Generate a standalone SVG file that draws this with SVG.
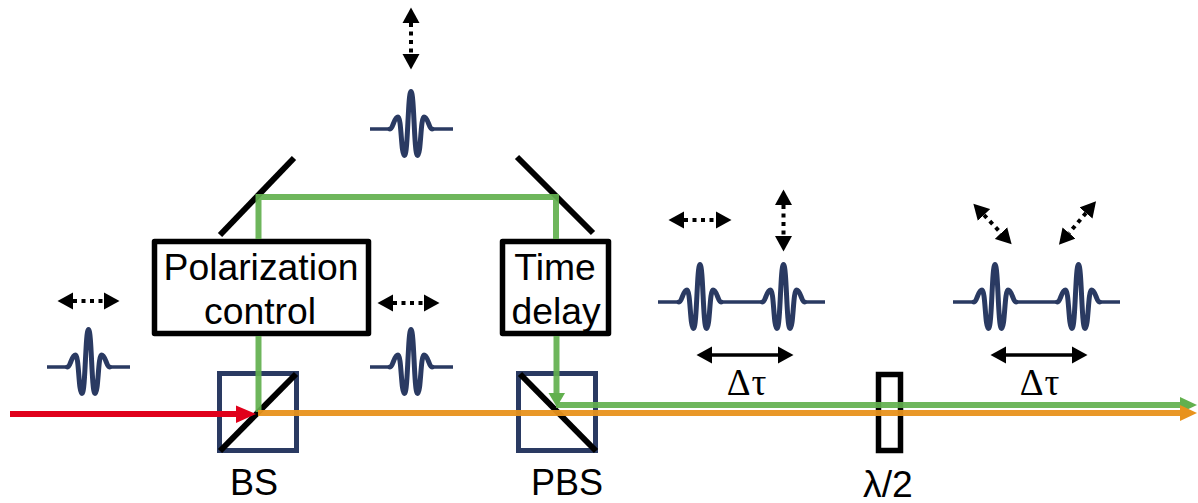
<svg xmlns="http://www.w3.org/2000/svg" width="1198" height="503" viewBox="0 0 1198 503">
<style>
text{font-family:"Liberation Sans",Arial,sans-serif;font-size:36px;fill:#000;text-anchor:middle}
text.lab{font-size:37.3px}
text.delta{font-family:"Liberation Serif","Times New Roman",serif;font-size:37px;letter-spacing:1px}
.pulse{fill:none;stroke:#2a3a62;stroke-width:5;stroke-linejoin:round;stroke-linecap:round}
.base{fill:none;stroke:#2a3a62;stroke-width:3.600}
.cube{fill:none;stroke:#2a3a62;stroke-width:5}
.blk{fill:none;stroke:#000;stroke-width:6}
.box{fill:#fff;stroke:#000;stroke-width:5.500;stroke-linejoin:round}
.plate{fill:none;stroke:#000;stroke-width:5.500}
.dot{fill:none;stroke:#000;stroke-width:4;stroke-dasharray:4 4.500;marker-start:url(#head);marker-end:url(#head)}
.sol{fill:none;stroke:#000;stroke-width:3.4;marker-start:url(#head);marker-end:url(#head)}
.g{fill:none;stroke:#62b04e;stroke-width:6;opacity:.92}
.o{fill:none;stroke:#e8921c;stroke-width:6;opacity:.95}
.r{fill:none;stroke:#e0001b;stroke-width:6}
</style>
<defs>
<marker id="head" markerUnits="userSpaceOnUse" markerWidth="16" markerHeight="18" refX="0" refY="9" orient="auto-start-reverse" viewBox="0 0 16 18"><path d="M0 0.500L15.500 9L0 17.500Z" fill="#000"/></marker>
<path id="wave" class="pulse" d="M-21 0C-18 0 -17 -12 -13 -12C-9.500 -12 -10 26.500 -6.500 26.500C-3 26.500 -3.200 -37.500 0 -37.500C3.200 -37.500 3 26.500 6.500 26.500C10 26.500 9.500 -12 13 -12C17 -12 18 0 21 0"/>
</defs>
<g id="pulse-input"><path class="base" d="M47 367H67.500M109.500 367H130"/><use href="#wave" x="88.500" y="367"/><path class="dot" d="M73 301H104"/></g>
<g id="pulse-mid"><path class="base" d="M370 367H390M432 367H453"/><use href="#wave" x="411" y="367"/><path class="dot" d="M393 303H424"/></g>
<g id="pulse-top"><path class="base" d="M370 129H390M432 129H453"/><use href="#wave" x="411" y="129"/><path class="dot" d="M411 23V54"/></g>
<g id="pulse-pair-1"><path class="base" d="M658 302H679M721 302H762.500M804.500 302H825"/><use href="#wave" x="700" y="302"/><use href="#wave" x="783.500" y="302"/><path class="dot" d="M684 220H716"/><path class="dot" d="M783.500 205V236"/><path class="sol" d="M712 355H778"/><text class="delta" x="747" y="395">Δτ</text></g>
<g id="pulse-pair-2"><path class="base" d="M953 302H974M1016 302H1057.500M1099.500 302H1120"/><use href="#wave" x="995" y="302"/><use href="#wave" x="1078.500" y="302"/><path class="dot" d="M984 215L1001 233"/><path class="dot" d="M1086 213L1069 233"/><path class="sol" d="M1006 355H1072"/><text class="delta" x="1040" y="395">Δτ</text></g>
<g id="mirror-left"><path class="blk" d="M220 235L294 158"/></g>
<g id="mirror-right"><path class="blk" d="M517 157L593 233"/></g>
<g id="polarization-control"><rect class="box" x="154.500" y="241.500" width="214" height="92"/><text class="lab" x="261" y="280">Polarization</text><text class="lab" x="260" y="324">control</text></g>
<g id="time-delay"><rect class="box" x="502.500" y="241.500" width="106" height="92"/><text class="lab" x="555" y="280">Time</text><text class="lab" x="556" y="324">delay</text></g>
<g id="BS"><rect class="cube" x="219.500" y="373.500" width="77" height="77"/><path class="blk" d="M220 451L296 374"/><text x="254" y="495">BS</text></g>
<g id="PBS"><rect class="cube" x="518.500" y="373.500" width="77" height="77"/><path class="blk" d="M520 374L596 451"/><text x="567" y="495">PBS</text></g>
<g id="half-wave-plate"><rect class="plate" x="878.500" y="374.500" width="22" height="76"/><text class="lab" x="888" y="497">λ/2</text></g>
<g id="connectors">
<path class="g" d="M258.500 239V197H556V239"/>
<path class="g" d="M258.500 336V412"/>
<path class="g" d="M556.500 336V394"/>
<path d="M548.500 393L565 393L556.800 407Z" fill="#62b04e"/>
<path class="g" d="M556 405H1182"/>
<path d="M1180 397L1197 405L1180 413Z" fill="#62b04e"/>
<path class="o" d="M258 413H1182"/>
<path d="M1180 405L1197 413L1180 421Z" fill="#e8921c"/>
<path class="r" d="M10 414H238"/>
<path d="M236 405.500L256 414L236 423Z" fill="#e0001b"/>
</g>
</svg>
